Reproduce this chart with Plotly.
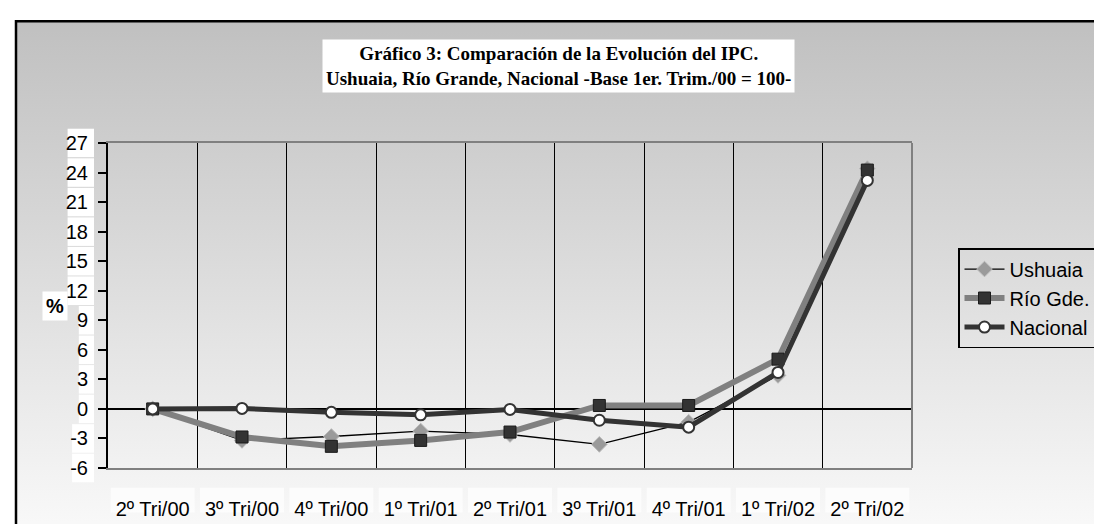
import base64
import plotly.graph_objects as go

# ---------------- data ----------------
categories = ["2º Tri/00", "3º Tri/00", "4º Tri/00", "1º Tri/01", "2º Tri/01",
              "3º Tri/01", "4º Tri/01", "1º Tri/02", "2º Tri/02"]
ushuaia = [0.0, -3.2, -2.8, -2.25, -2.6, -3.6, -1.35, 3.4, 24.4]
rio_gde = [0.0, -2.85, -3.8, -3.2, -2.35, 0.35, 0.35, 5.05, 24.25]
nacional = [0.0, 0.05, -0.35, -0.6, -0.05, -1.15, -1.85, 3.7, 23.2]
y_ticks = [-6, -3, 0, 3, 6, 9, 12, 15, 18, 21, 24, 27]
y_labels = [str(v) for v in y_ticks]
title_text = ("<b>Gráfico 3: Comparación de la Evolución del IPC.<br>"
              "Ushuaia, Río Grande, Nacional -Base 1er. Trim./00 = 100-</b>")

# ---------------- layout geometry (pixels) ----------------
W, H = 1102, 524
PL, PR, PT, PB = 100, 904, 135, 463  # plot area
YMIN, YMAX = y_ticks[0], y_ticks[-1]


def px_x(p):
    return (p - PL) / (PR - PL)


def px_y(p):
    return (PB - p) / (PB - PT)


def val_y(v):
    return (v - YMIN) / (YMAX - YMIN)


xs = list(range(len(categories)))
SANS = "Liberation Sans, Arial, sans-serif"

fig = go.Figure()
fig.add_trace(go.Scatter(
    x=xs, y=ushuaia, name="Ushuaia", mode="lines+markers",
    line=dict(color="black", width=1.3),
    marker=dict(symbol="diamond", size=12, color="#9a9a9a",
                line=dict(color="#b8b8b8", width=1)),
))
fig.add_trace(go.Scatter(
    x=xs, y=rio_gde, name="Río Gde.", mode="lines+markers",
    line=dict(color="#808080", width=6),
    marker=dict(symbol="square", size=12, color="#333333",
                line=dict(color="#1a1a1a", width=1)),
))
fig.add_trace(go.Scatter(
    x=xs, y=nacional, name="Nacional", mode="lines+markers",
    line=dict(color="#333333", width=5),
    marker=dict(symbol="circle", size=11, color="white",
                line=dict(color="#333333", width=2)),
))

# gradient background via SVG image
svg = ('<svg xmlns="http://www.w3.org/2000/svg" width="100" height="100" '
       'viewBox="0 0 100 100" preserveAspectRatio="none">'
       '<defs><linearGradient id="g" x1="0" y1="0" x2="0" y2="1">'
       '<stop offset="0" stop-color="#c0c0c0"/>'
       '<stop offset="1" stop-color="#fbfbfb"/></linearGradient></defs>'
       '<rect x="0" y="0" width="100" height="100" fill="url(#g)"/></svg>')
uri = "data:image/svg+xml;base64," + base64.b64encode(svg.encode()).decode()

shapes = []
# white boxes behind y tick labels
for label, v in zip(y_labels, y_ticks):
    wlab = 11.2 * sum(1 for c in label if c.isdigit()) + 6.7 * label.count("-")
    shapes.append(dict(type="rect", xref="paper", yref="paper",
                       x0=px_x(84 - wlab - 2), x1=px_x(86),
                       y0=val_y(v - 1.45), y1=val_y(v + 1.45),
                       fillcolor="white", line=dict(width=0), layer="below"))
# faint boxes behind x tick labels
for i in xs:
    shapes.append(dict(type="rect", xref="x", yref="paper",
                       x0=i - 0.47, x1=i + 0.47, y0=px_y(508), y1=px_y(483),
                       fillcolor="rgba(255,255,255,0.7)", line=dict(width=0),
                       layer="below"))
# right border of plot area (grey)
shapes.append(dict(type="line", xref="paper", yref="paper", x0=1, x1=1, y0=0, y1=1,
                   line=dict(color="#808080", width=2), layer="above"))
# outer frame
shapes.append(dict(type="rect", xref="paper", yref="paper",
                   x0=px_x(8), x1=px_x(1120), y0=px_y(545), y1=px_y(12),
                   line=dict(color="black", width=2.5), fillcolor="rgba(0,0,0,0)",
                   layer="above"))

fig.update_layout(
    width=W, height=H,
    margin=dict(l=PL, r=W - PR, t=PT, b=H - PB, pad=0),
    paper_bgcolor="white", plot_bgcolor="white",
    showlegend=True,
    font=dict(family=SANS, size=20, color="black"),
    images=[dict(source=uri, xref="paper", yref="paper",
                 x=px_x(8), y=px_y(12), sizex=px_x(1120) - px_x(8),
                 sizey=px_y(12) - px_y(545), xanchor="left", yanchor="top",
                 sizing="stretch", layer="below")],
    shapes=shapes,
    xaxis=dict(
        range=[-0.5, len(categories) - 0.5],
        tickmode="array", tickvals=xs, ticktext=categories,
        ticks="", showgrid=False, zeroline=False,
        showline=True, linecolor="#808080", linewidth=2, mirror=True,
        tickfont=dict(family=SANS, size=20, color="black"),
        ticklabelstandoff=22,
        minor=dict(tickmode="array", tickvals=[i + 0.5 for i in xs[:-1]],
                   showgrid=True, gridcolor="black", gridwidth=1, ticks=""),
    ),
    yaxis=dict(
        range=[YMIN, YMAX], tickmode="array", tickvals=y_ticks, ticktext=y_labels,
        showgrid=False, zeroline=True, zerolinecolor="black", zerolinewidth=1.5,
        showline=True, linecolor="black", linewidth=2,
        ticks="outside", ticklen=8, tickwidth=1.5, tickcolor="black",
        tickfont=dict(family=SANS, size=20, color="black"),
        ticklabelstandoff=6,
    ),
    legend=dict(
        x=px_x(950), y=px_y(241), xanchor="left", yanchor="top",
        bgcolor="rgba(0,0,0,0)", bordercolor="black", borderwidth=1.5,
        font=dict(family=SANS, size=20, color="black"),
        tracegroupgap=0, itemwidth=40,
    ),
    annotations=[
        dict(text=title_text, xref="paper", yref="paper",
             x=px_x(550), y=px_y(57), xanchor="center", yanchor="middle",
             showarrow=False, bgcolor="white", borderpad=3,
             font=dict(family="Liberation Serif, Times New Roman, serif", size=19,
                       color="black")),
        dict(text="<b>%</b>", xref="paper", yref="paper",
             x=px_x(47), y=px_y(300), xanchor="center", yanchor="middle",
             showarrow=False, bgcolor="white", borderpad=3,
             font=dict(family=SANS, size=20, color="black")),
    ],
)

fig.write_html("out.html")
